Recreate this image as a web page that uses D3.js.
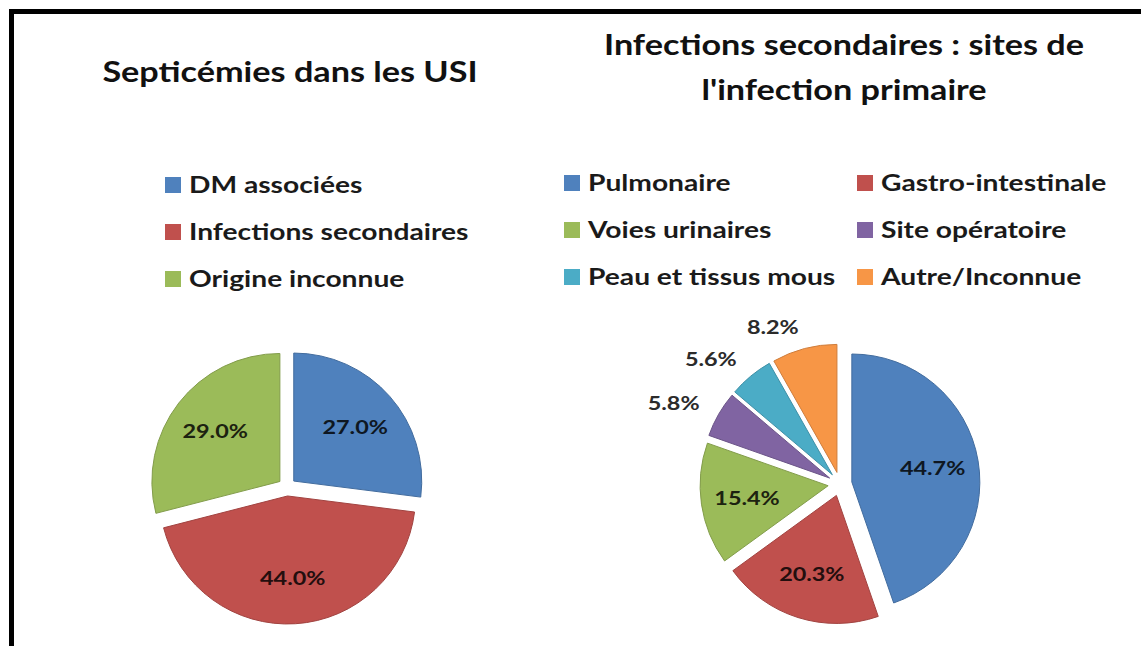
<!DOCTYPE html>
<html>
<head>
<meta charset="utf-8">
<script src="https://cdn.jsdelivr.net/npm/d3@7"></script>
<style>
  html, body { margin: 0; padding: 0; background: #ffffff; overflow: hidden; }
  svg { display: block; }
  text { font-family: Lato, "Open Sans", sans-serif; font-weight: 700; }
</style>
</head>
<body>
<script>
// ---- data ----
const leftTitle = ["Septicémies dans les USI"];
const leftCategories = ["DM associées", "Infections secondaires", "Origine inconnue"];
const leftValues = [27.0, 44.0, 29.0];
const leftColors = ["#4F81BD", "#C0504D", "#9BBB59"];

const rightTitle = ["Infections secondaires : sites de", "l'infection primaire"];
const rightCategories = ["Pulmonaire", "Gastro-intestinale", "Voies urinaires", "Site opératoire", "Peau et tissus mous", "Autre/Inconnue"];
const rightValues = [44.7, 20.3, 15.4, 5.8, 5.6, 8.2];
const rightColors = ["#4F81BD", "#C0504D", "#9BBB59", "#8064A2", "#4BACC6", "#F79646"];

// ---- layout ----
const W = 1141, H = 646;
const SX = 1.2;            // horizontal stretch of the text, as in the picture
const R = 128;

const svg = d3.select("body").append("svg").attr("width", W).attr("height", H);

// frame: only the top and left edges are in view
svg.append("path")
  .attr("d", `M11.5,${H + 10} L11.5,11.5 L${W + 10},11.5`)
  .attr("fill", "none").attr("stroke", "#000").attr("stroke-width", 5);

function stext(parent, x, y, str, size, anchor, fill) {
  return parent.append("text")
    .attr("transform", `translate(${x},${y}) scale(${SX},1)`)
    .attr("text-anchor", anchor || "start")
    .attr("font-size", size)
    .attr("fill", fill || "#111")
    .text(str);
}

const fmt = v => d3.format(".1f")(v) + "%";

function drawPie(cfg) {
  const g = svg.append("g").attr("transform", `translate(${cfg.cx},${cfg.cy})`);
  const pie = d3.pie().sort(null).value(d => d)(cfg.values);
  const arc = d3.arc().innerRadius(0).outerRadius(R);
  const color = d3.scaleOrdinal().domain(d3.range(cfg.values.length)).range(cfg.colors);
  pie.forEach((p, i) => {
    const mid = (p.startAngle + p.endAngle) / 2;
    const ox = Math.sin(mid) * cfg.explode, oy = -Math.cos(mid) * cfg.explode;
    const c = color(i);
    g.append("path")
      .attr("transform", `translate(${ox},${oy})`)
      .attr("d", arc(p))
      .attr("fill", c)
      .attr("stroke", d3.color(c).darker(0.5))
      .attr("stroke-width", 1);
    if (p.value >= 10) {
      const lr = cfg.explode + R * 0.64;
      const lx = Math.sin(mid) * lr, ly = -Math.cos(mid) * lr;
      stext(g, lx, ly + 7, fmt(p.value), 19.5, "middle", d3.interpolateRgb(c, "#000")(0.82));
    } else {
      const lr = 162;
      const lx = Math.sin(mid) * lr, ly = -Math.cos(mid) * lr;
      stext(g, lx, ly + 7, fmt(p.value), 19.5, "end", "#2b2b2b");
    }
  });
}

function drawLegend(cfg) {
  const g = svg.append("g");
  cfg.categories.forEach((name, i) => {
    const col = i % cfg.cols, row = Math.floor(i / cfg.cols);
    const x = cfg.x[col], y = cfg.y[row];
    g.append("rect").attr("x", x).attr("y", y - 8).attr("width", 16).attr("height", 16)
      .attr("fill", cfg.colors[i]);
    stext(g, x + 24, y + 8, name, 23.5, "start", "#1a1a1a");
  });
}

// titles
stext(svg, 290, 82, leftTitle[0], 28.5, "middle", "#111");
stext(svg, 844, 55, rightTitle[0], 28.5, "middle", "#111");
stext(svg, 844, 100, rightTitle[1], 28.5, "middle", "#111");

// legends
drawLegend({ categories: leftCategories, colors: leftColors, cols: 1, x: [165], y: [185, 232, 279] });
drawLegend({ categories: rightCategories, colors: rightColors, cols: 2, x: [564, 857], y: [183, 230, 277] });

// pies
drawPie({ cx: 287, cy: 487, explode: 9, values: leftValues, colors: leftColors });
drawPie({ cx: 840, cy: 484, explode: 12, values: rightValues, colors: rightColors });
</script>
</body>
</html>
